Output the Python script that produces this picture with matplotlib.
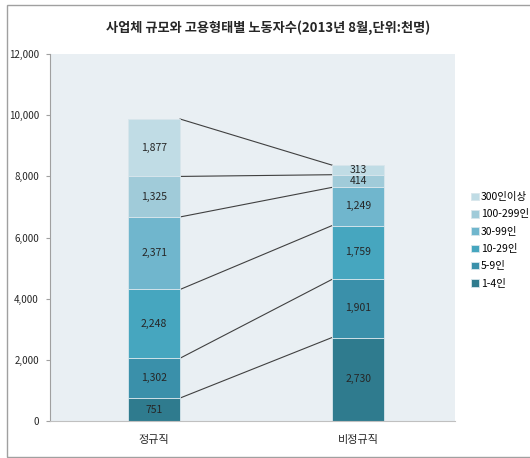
import matplotlib.pyplot as plt
from matplotlib.patches import Rectangle
import numpy as np

plt.rcParams['font.family'] = ['Noto Sans CJK KR', 'DejaVu Sans']

# data
categories = ['정규직', '비정규직']
sizes = ['1-4인', '5-9인', '10-29인', '30-99인', '100-299인', '300인이상']
regular = [751, 1302, 2248, 2371, 1325, 1877]
nonregular = [2730, 1901, 1759, 1249, 414, 313]
colors = ['#2f7b8e', '#3a90aa', '#46a6bf', '#70b6cd', '#a0cbd9', '#c0dce5']

fig = plt.figure(figsize=(5.3, 4.58), dpi=100)
# outer frame (right side runs off the picture)
fig.patches.append(Rectangle((7 / 530, 1 / 458), 530 / 530, 452 / 458, transform=fig.transFigure,
                             fill=False, edgecolor='#a0a0a0', linewidth=1.0))
ax = fig.add_axes([50 / 530, 37 / 458, 405 / 530, 367 / 458])
ax.set_facecolor('#e9eff3')

x = np.arange(len(categories))
width = 0.255
data = np.array([regular, nonregular])
bottoms = np.zeros(2)
tops = []
for i, name in enumerate(sizes):
    vals = data[:, i]
    ax.bar(x, vals, width, bottom=bottoms, color=colors[i], edgecolor='#d8e6ec',
           linewidth=0.6, label=name, zorder=2)
    for j in range(2):
        v = vals[j]
        ax.text(x[j], bottoms[j] + v / 2, f'{v:,}', ha='center', va='center',
                fontsize=7.5, color='#262626', zorder=3)
    bottoms = bottoms + vals
    tops.append(bottoms.copy())

# connector lines between the bars
for t in tops:
    ax.plot([x[0] + width / 2, x[1] - width / 2], [t[0], t[1]], color='#404040',
            linewidth=0.8, zorder=1)

ax.set_xlim(-0.51, 1.475)
ax.set_ylim(0, 12000)
ax.set_yticks(np.arange(0, 12001, 2000))
ax.set_yticklabels([f'{v:,}' for v in range(0, 12001, 2000)], fontsize=7, color='#262626')
ax.set_xticks(x)
ax.set_xticklabels(categories, fontsize=8, color='#262626')
ax.tick_params(axis='y', length=3, color='#a0a0a0', pad=5)
ax.tick_params(axis='x', length=0, pad=10)
for s in ['top', 'right']:
    ax.spines[s].set_visible(False)
ax.spines['left'].set_color('#a0a0a0')
ax.spines['bottom'].set_color('#c0c0c0')

h, l = ax.get_legend_handles_labels()
fig.legend(h[::-1], l[::-1], loc='upper left', bbox_to_anchor=(466 / 530, 1 - 187 / 458),
           frameon=False, fontsize=7.5, handlelength=0.7, handleheight=0.7,
           handletextpad=0.25, labelspacing=0.7, borderpad=0)

fig.text(0.505, 1 - 28 / 458, '사업체 규모와 고용형태별 노동자수(2013년 8월,단위:천명)',
         ha='center', va='center', fontsize=9.5, fontweight='bold', color='#262626')

fig.savefig('out.png', dpi=100)
